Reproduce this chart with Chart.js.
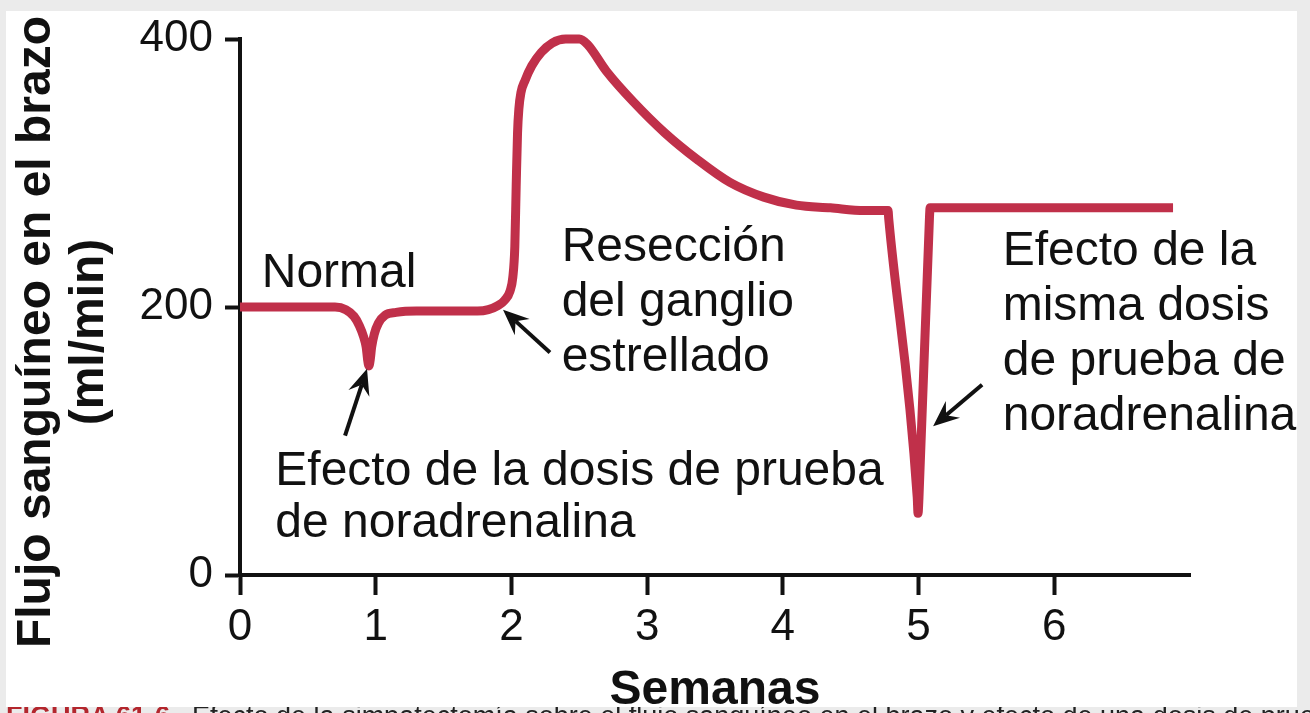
<!DOCTYPE html>
<html lang="es">
<head>
<meta charset="utf-8">
<script src="https://cdn.jsdelivr.net/npm/chart.js@4/dist/chart.umd.min.js"></script>
<style>
  html, body { margin: 0; padding: 0; }
  body { width: 1310px; height: 713px; background: #ebebeb; position: relative; overflow: hidden;
         font-family: "Liberation Sans", Arial, sans-serif; }
  #panel { position: absolute; left: 6px; top: 11px; width: 1291px; height: 696px; background: #fff; }
  #wrap { position: absolute; left: 0; top: 0; width: 1310px; height: 713px; }
  #strip { position: absolute; left: 0; top: 707px; width: 1310px; height: 6px; overflow: hidden; }
  #caption { position: absolute; left: 6px; top: -6px; white-space: nowrap; font-size: 27px; line-height: 30px; color: #222; }
  #caption b { color: #b3262d; margin-right: 22px; }
</style>
</head>
<body>
<div id="panel"></div>
<div id="wrap"><canvas id="chart" width="1310" height="713"></canvas></div>
<div id="strip"><div id="caption"><b>FIGURA 61-6</b>Efecto de la simpatectomía sobre el flujo sanguíneo en el brazo y efecto de una dosis de prueba de noradrenalina</div></div>
<script>
// ===== 数据：周数 / 手臂血流 (ml/min) =====
const WEEKS = [
  0, 0.62, 0.70, 0.78, 0.84, 0.88, 0.91, 0.93, 0.94, 0.95, 0.96, 0.97, 0.99, 1.02, 1.07, 1.15, 1.3,
  1.75, 1.83, 1.90, 1.95, 1.99, 2.01, 2.025, 2.035, 2.045, 2.055, 2.07, 2.10, 2.15, 2.22, 2.30, 2.40, 2.50, 2.56,
  2.70, 2.90, 3.13, 3.37, 3.61, 3.86, 4.10, 4.35, 4.60, 4.775, 4.78,
  4.99, 4.996, 5.003, 5.08, 5.085, 6.875
];
const FLOW = [
  200, 200, 200, 198, 193, 186, 178, 170, 161, 156, 161, 170, 180, 188, 194, 196, 197,
  197, 198, 201, 205, 212, 222, 245, 290, 330, 348, 360, 369, 380, 390, 397, 400, 400, 396,
  376, 353, 330, 310, 293, 282, 276, 274, 272, 272, 266,
  58, 46, 58, 266, 274, 274
];
const X_TICKS = [0, 1, 2, 3, 4, 5, 6];
const Y_TICKS = [0, 200, 400];

// 注释文字（数据坐标：周 / 血流，为第一行基线）
const NOTES = [
  { x: 0.16, y: 215, lines: ['Normal'] },
  { x: 2.37, y: 234, lines: ['Resección', 'del ganglio', 'estrellado'] },
  { x: 5.62, y: 231, lines: ['Efecto de la', 'misma dosis', 'de prueba de', 'noradrenalina'] },
  { x: 0.26, y: 67, lines: ['Efecto de la dosis de prueba', 'de noradrenalina'] }
];
// 箭头：从尾到尖
const ARROWS = [
  { from: [0.774, 104], to: [0.936, 154] },
  { from: [2.284, 166], to: [1.938, 198] },
  { from: [5.468, 142], to: [5.107, 111] }
];

const INK = '#111';
const LINE_RED = '#c0304a';
const FONT = '"Liberation Sans", Arial, sans-serif';

function drawArrow(ctx, x1, y1, x2, y2) {
  const ang = Math.atan2(y2 - y1, x2 - x1);
  const len = 26, half = 11, notch = 9;
  ctx.save();
  ctx.strokeStyle = INK;
  ctx.fillStyle = INK;
  ctx.lineWidth = 4;
  ctx.beginPath();
  ctx.moveTo(x1, y1);
  ctx.lineTo(x2 - Math.cos(ang) * (len - notch), y2 - Math.sin(ang) * (len - notch));
  ctx.stroke();
  ctx.translate(x2, y2);
  ctx.rotate(ang);
  ctx.beginPath();
  ctx.moveTo(0, 0);
  ctx.lineTo(-len, -half);
  ctx.lineTo(-len + notch, 0);
  ctx.lineTo(-len, half);
  ctx.closePath();
  ctx.fill();
  ctx.restore();
}

const annotations = {
  id: 'annotations',
  afterDraw(chart) {
    const { ctx, scales: { x, y } } = chart;
    ctx.save();
    ctx.fillStyle = INK;
    ctx.textBaseline = 'alphabetic';
    ctx.textAlign = 'left';
    ctx.font = '48px ' + FONT;
    NOTES.forEach(n => {
      const px = x.getPixelForValue(n.x);
      const py = y.getPixelForValue(n.y);
      const lh = n.lines.length > 2 ? 55 : 52;
      n.lines.forEach((t, i) => ctx.fillText(t, px, py + i * lh));
    });
    ARROWS.forEach(a => drawArrow(ctx,
      x.getPixelForValue(a.from[0]), y.getPixelForValue(a.from[1]),
      x.getPixelForValue(a.to[0]), y.getPixelForValue(a.to[1])));

    // y 轴标题（两行，旋转）
    ctx.font = 'bold 48px ' + FONT;
    ctx.textAlign = 'center';
    ctx.translate(0, 332);
    ctx.rotate(-Math.PI / 2);
    ctx.fillText('Flujo sanguíneo en el brazo', 0, 50);
    ctx.fillText('(ml/min)', 0, 103);
    ctx.restore();
  }
};

new Chart(document.getElementById('chart'), {
  type: 'line',
  data: {
    datasets: [{
      data: WEEKS.map((w, i) => ({ x: w, y: FLOW[i] })),
      borderColor: LINE_RED,
      borderWidth: 9,
      borderJoinStyle: 'round',
      borderCapStyle: 'butt',
      pointRadius: 0,
      cubicInterpolationMode: 'monotone',
      clip: false
    }]
  },
  options: {
    responsive: false,
    animation: false,
    layout: { padding: { left: 0, right: 120, top: 39, bottom: 0 } },
    plugins: { legend: { display: false }, tooltip: { enabled: false } },
    scales: {
      x: {
        type: 'linear',
        min: 0,
        max: 7,
        afterBuildTicks: s => { s.ticks = X_TICKS.map(v => ({ value: v })); },
        afterFit: s => { s.height = 138; },
        grid: { drawOnChartArea: false, tickLength: 20, tickWidth: 4, tickColor: INK },
        border: { color: INK, width: 4 },
        ticks: { color: INK, padding: 6, maxRotation: 0, font: { family: FONT, size: 44 } },
        title: { display: true, text: 'Semanas', color: INK, padding: { top: 0, bottom: -2 },
                 font: { family: FONT, size: 48, weight: 'bold', lineHeight: 1 } }
      },
      y: {
        min: 0,
        max: 400,
        afterBuildTicks: s => { s.ticks = Y_TICKS.map(v => ({ value: v })); },
        afterFit: s => { s.width = 240; },
        grid: { drawOnChartArea: false, tickLength: 15, tickWidth: 4, tickColor: INK },
        border: { color: INK, width: 4 },
        ticks: { color: INK, padding: 12, font: { family: FONT, size: 44 } }
      }
    }
  },
  plugins: [annotations]
});
</script>
</body>
</html>
